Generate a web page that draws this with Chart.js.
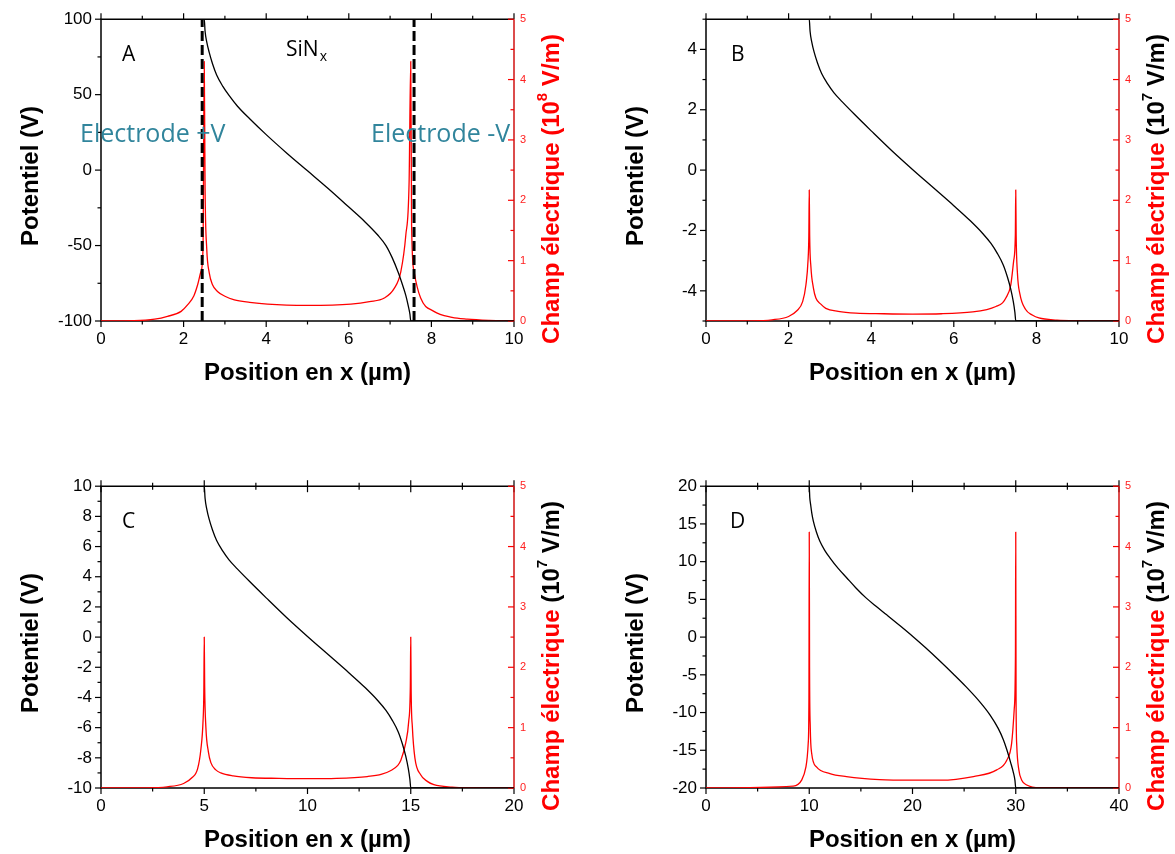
<!DOCTYPE html>
<html>
<head>
<meta charset="utf-8">
<script src="https://cdn.jsdelivr.net/npm/chart.js@4.4.1/dist/chart.umd.min.js"></script>
<style>
  body { margin: 0; background: #fff; width: 1175px; height: 854px; overflow: hidden; position: relative; }
  canvas { position: absolute; }
</style>
</head>
<body>
<canvas id="chartA" width="590" height="400" style="left:0;top:0"></canvas>
<canvas id="chartB" width="590" height="400" style="left:605px;top:0"></canvas>
<canvas id="chartC" width="590" height="400" style="left:0;top:467px"></canvas>
<canvas id="chartD" width="590" height="400" style="left:605px;top:467px"></canvas>
<script>
// Potentiel / champ électrique dans une couche SiNx, 4 cas (A-D)

const fieldTicks = [0, 1, 2, 3, 4, 5];

// --- A : 100 V, 5 µm ---
const xTicksA = [0, 2, 4, 6, 8, 10];
const vTicksA = [-100, -50, 0, 50, 100];
const electrodeXA = [2.45, 7.58];
const potXA = [0, 2.5, 2.52, 2.56, 2.62, 2.7, 2.8, 2.95, 3.1, 3.3, 3.6, 4.0, 4.5, 5.0, 5.5, 6.0, 6.4, 6.7, 6.9, 7.05, 7.2, 7.3, 7.38, 7.44, 7.48, 7.5, 10];
const potVA = [100, 100, 92, 85, 78, 70.5, 63, 55.5, 49.5, 42.5, 34, 23.5, 11.2, -0.5, -12.2, -24.5, -34.5, -43, -50, -58, -68, -76, -83, -90, -95.5, -100, -100];
const fieldXA = [0, 0.8, 1.3, 1.61, 1.94, 2.1, 2.25, 2.34, 2.42, 2.47, 2.5, 2.52, 2.56, 2.62, 2.7, 2.82, 3.0, 3.23, 3.6, 4.03, 5.0, 6.05, 6.5, 6.86, 7.1, 7.26, 7.38, 7.46, 7.5, 7.52, 7.58, 7.74, 8.06, 8.5, 8.87, 9.4, 10];
const fieldEA = [0, 0.005, 0.03, 0.077, 0.16, 0.27, 0.42, 0.6, 0.82, 1.2, 4.3, 2.2, 1.2, 0.8, 0.6, 0.49, 0.41, 0.35, 0.31, 0.28, 0.26, 0.28, 0.32, 0.38, 0.54, 0.82, 1.42, 2.3, 4.3, 1.6, 0.82, 0.38, 0.16, 0.06, 0.03, 0.01, 0];

// --- B : 5 V, 5 µm ---
const xTicksB = [0, 2, 4, 6, 8, 10];
const vTicksB = [-4, -2, 0, 2, 4];
const potXB = [0, 2.5, 2.52, 2.56, 2.62, 2.7, 2.8, 2.95, 3.1, 3.3, 3.6, 4.0, 4.5, 5.0, 5.5, 6.0, 6.4, 6.7, 6.9, 7.05, 7.2, 7.3, 7.38, 7.44, 7.48, 7.5, 10];
const potVB = [5, 5, 4.6, 4.25, 3.9, 3.55, 3.2, 2.85, 2.56, 2.26, 1.84, 1.3, 0.64, 0.02, -0.58, -1.18, -1.68, -2.1, -2.43, -2.75, -3.15, -3.55, -3.95, -4.35, -4.72, -5, -5];
const fieldXB = [0, 1.0, 1.6, 2.0, 2.2, 2.34, 2.42, 2.47, 2.49, 2.5, 2.51, 2.54, 2.6, 2.66, 2.78, 2.9, 3.2, 3.63, 4.3, 5.0, 5.7, 6.46, 6.8, 7.02, 7.18, 7.26, 7.38, 7.45, 7.49, 7.5, 7.51, 7.54, 7.6, 7.74, 7.9, 8.06, 8.5, 9.0, 10];
const fieldEB = [0, 0.003, 0.02, 0.075, 0.17, 0.32, 0.6, 1.0, 1.42, 2.17, 1.42, 0.9, 0.55, 0.38, 0.28, 0.21, 0.16, 0.13, 0.12, 0.115, 0.12, 0.15, 0.19, 0.24, 0.3, 0.38, 0.6, 1.0, 1.42, 2.17, 1.42, 0.8, 0.45, 0.19, 0.1, 0.05, 0.015, 0.004, 0];

// --- C : 10 V, 10 µm ---
const xTicksC = [0, 5, 10, 15, 20];
const vTicksC = [-10, -8, -6, -4, -2, 0, 2, 4, 6, 8, 10];
const potXC = [0, 5, 5.04, 5.12, 5.24, 5.4, 5.6, 5.9, 6.2, 6.6, 7.2, 8.0, 9.0, 10, 11, 12, 12.8, 13.4, 13.8, 14.1, 14.4, 14.6, 14.76, 14.88, 14.96, 15, 20];
const potVC = [10, 10, 9.2, 8.5, 7.8, 7.1, 6.4, 5.7, 5.12, 4.52, 3.68, 2.6, 1.28, 0.04, -1.16, -2.36, -3.36, -4.2, -4.86, -5.5, -6.3, -7.1, -7.9, -8.7, -9.44, -10, -10];
const fieldXC = [0, 2.0, 3.2, 4.0, 4.4, 4.68, 4.84, 4.94, 4.98, 5.0, 5.02, 5.08, 5.2, 5.32, 5.56, 5.8, 6.4, 7.3, 8.6, 10, 11.4, 12.9, 13.6, 14.04, 14.36, 14.52, 14.76, 14.9, 14.98, 15.0, 15.02, 15.08, 15.2, 15.48, 15.8, 16.12, 17, 18, 20];
const fieldEC = [0, 0.003, 0.02, 0.075, 0.17, 0.32, 0.65, 1.1, 1.6, 2.5, 1.7, 1.0, 0.6, 0.42, 0.3, 0.25, 0.2, 0.17, 0.16, 0.155, 0.16, 0.19, 0.23, 0.29, 0.37, 0.46, 0.75, 1.1, 1.7, 2.5, 1.6, 1.0, 0.5, 0.22, 0.11, 0.055, 0.015, 0.004, 0];

// --- D : 20 V, 20 µm ---
const xTicksD = [0, 10, 20, 30, 40];
const vTicksD = [-20, -15, -10, -5, 0, 5, 10, 15, 20];
const potXD = [0, 10, 10.05, 10.13, 10.25, 10.39, 10.7, 11.03, 11.5, 12, 12.8, 13.6, 14.5, 15.5, 16.5, 17.5, 18.8, 20.06, 21.3, 22.6, 24, 25.2, 26.5, 27.5, 28.3, 28.8, 29.13, 29.5, 29.77, 29.92, 30, 40];
const potVD = [20, 20, 18.5, 17.6, 16.4, 15.4, 13.9, 12.7, 11.5, 10.5, 9.1, 7.9, 6.55, 5.2, 4.05, 2.95, 1.5, 0.05, -1.45, -3.1, -4.95, -6.6, -8.55, -10.3, -12.1, -13.6, -14.9, -16.6, -17.95, -18.95, -20, -20];
const fieldXD = [0, 8.45, 9.26, 9.68, 9.9, 9.97, 10, 10.03, 10.1, 10.23, 10.7, 12, 13.6, 16.8, 20, 22.7, 25.9, 28.16, 29.13, 29.6, 29.85, 29.97, 30, 30.03, 30.1, 30.3, 30.58, 31.06, 32.35, 40];
const fieldED = [0, 0.03, 0.13, 0.35, 0.74, 1.5, 4.24, 2.0, 1.0, 0.58, 0.35, 0.24, 0.19, 0.14, 0.13, 0.13, 0.19, 0.3, 0.46, 0.74, 1.3, 2.2, 4.24, 1.5, 0.7, 0.3, 0.13, 0.05, 0.005, 0];

const FONT = '"Liberation Sans", Arial, sans-serif';
const NOTE_FONT = '"Open Sans", sans-serif';
const RED = '#ff0000';

const panels = [
  { id: 'chartA', letter: 'A', letterX: 122, xMin: 0, xMax: 10, vMin: -100, vMax: 100,
    xTicks: xTicksA, vTicks: vTicksA, xMinor: 1, vMinor: 25,
    potX: potXA, potV: potVA, fieldX: fieldXA, fieldE: fieldEA,
    exp: '8', unitColor: RED, electrodes: electrodeXA, notes: true },
  { id: 'chartB', letter: 'B', letterX: 126, xMin: 0, xMax: 10, vMin: -5, vMax: 5,
    xTicks: xTicksB, vTicks: vTicksB, xMinor: 1, vMinor: 1,
    potX: potXB, potV: potVB, fieldX: fieldXB, fieldE: fieldEB,
    exp: '7', unitColor: '#000' },
  { id: 'chartC', letter: 'C', letterX: 122, xMin: 0, xMax: 20, vMin: -10, vMax: 10,
    xTicks: xTicksC, vTicks: vTicksC, xMinor: 2.5, vMinor: 1,
    potX: potXC, potV: potVC, fieldX: fieldXC, fieldE: fieldEC,
    exp: '7', unitColor: '#000', topBoth: true },
  { id: 'chartD', letter: 'D', letterX: 125, xMin: 0, xMax: 40, vMin: -20, vMax: 20,
    xTicks: xTicksD, vTicks: vTicksD, xMinor: 5, vMinor: 2.5,
    potX: potXD, potV: potVD, fieldX: fieldXD, fieldE: fieldED,
    exp: '7', unitColor: '#000', topBoth: true }
];

function pts(xs, ys) {
  return xs.map((x, i) => ({ x: x, y: ys[i] }));
}

// small tick marks (majors + minors) along one side of the frame
function drawMarks(ctx, scale, step, labels, side, area, both) {
  const n = Math.round((scale.max - scale.min) / step);
  for (let i = 0; i <= n; i++) {
    const v = scale.min + i * step;
    const major = labels.some(t => Math.abs(t - v) < step / 100);
    const len = major ? 6 : 3.5;
    const inner = both ? len : 0;
    const p = scale.getPixelForValue(v);
    ctx.beginPath();
    if (side === 'bottom') { ctx.moveTo(p, area.bottom - inner); ctx.lineTo(p, area.bottom + len); }
    if (side === 'top') { ctx.moveTo(p, area.top + inner); ctx.lineTo(p, area.top - len); }
    if (side === 'left') { ctx.moveTo(area.left, p); ctx.lineTo(area.left - len, p); }
    if (side === 'right') { ctx.moveTo(area.right, p); ctx.lineTo(area.right - len, p); }
    ctx.stroke();
  }
}

// text made of several runs (colour / superscript), centred on 0,0
function drawRuns(ctx, runs, size) {
  let total = 0;
  runs.forEach(r => {
    ctx.font = 'bold ' + (r.sup ? Math.round(size * 0.62) : size) + 'px ' + FONT;
    r.w = ctx.measureText(r.text).width;
    total += r.w;
  });
  let x = -total / 2;
  ctx.textBaseline = 'middle';
  ctx.textAlign = 'left';
  runs.forEach(r => {
    ctx.font = 'bold ' + (r.sup ? Math.round(size * 0.62) : size) + 'px ' + FONT;
    ctx.fillStyle = r.color;
    ctx.fillText(r.text, x, r.sup ? -size * 0.38 : 0);
    x += r.w;
  });
}

function makePanel(p) {
  const datasets = [];
  (p.electrodes || []).forEach(x => {
    datasets.push({ data: [{ x: x, y: p.vMin }, { x: x, y: p.vMax }], yAxisID: 'y',
      borderColor: '#000', borderWidth: 3, borderDash: [10, 4], showLine: true });
  });
  datasets.push({ data: pts(p.potX, p.potV), yAxisID: 'y', borderColor: '#000', borderWidth: 1.3,
    showLine: true, cubicInterpolationMode: 'monotone' });
  datasets.push({ data: pts(p.fieldX, p.fieldE), yAxisID: 'y2', borderColor: RED, borderWidth: 1.3,
    showLine: true, cubicInterpolationMode: 'monotone' });

  const frame = {
    id: 'frame',
    beforeDatasetsDraw(chart) {
      const { ctx, chartArea: a, scales } = chart;
      ctx.save();
      ctx.lineWidth = 1.5;
      ctx.strokeStyle = '#000';
      ctx.beginPath();
      ctx.moveTo(a.right, a.bottom); ctx.lineTo(a.left, a.bottom);
      ctx.lineTo(a.left, a.top); ctx.lineTo(a.right, a.top);
      ctx.stroke();
      ctx.lineWidth = 1.2;
      drawMarks(ctx, scales.x, p.xMinor, p.xTicks, 'bottom', a, false);
      drawMarks(ctx, scales.x, p.xMinor, p.xTicks, 'top', a, p.topBoth);
      drawMarks(ctx, scales.y, p.vMinor, p.vTicks, 'left', a, false);
      ctx.strokeStyle = RED;
      drawMarks(ctx, scales.y2, 0.5, fieldTicks, 'right', a, false);
      ctx.strokeStyle = '#d01010';
      ctx.lineWidth = 1.5;
      ctx.beginPath();
      ctx.moveTo(a.right, a.top); ctx.lineTo(a.right, a.bottom);
      ctx.stroke();
      ctx.restore();
    },
    afterDraw(chart) {
      const { ctx, chartArea: a } = chart;
      const cx = (a.left + a.right) / 2;
      ctx.save();
      // axis titles
      ctx.fillStyle = '#000';
      ctx.font = 'bold 24px ' + FONT;
      ctx.textAlign = 'center';
      ctx.textBaseline = 'middle';
      ctx.fillText('Position en x (µm)', cx, 373);
      ctx.save();
      ctx.translate(31, 176);
      ctx.rotate(-Math.PI / 2);
      ctx.fillText('Potentiel (V)', 0, 0);
      ctx.restore();
      ctx.save();
      ctx.translate(552, 189);
      ctx.rotate(-Math.PI / 2);
      drawRuns(ctx, [
        { text: 'Champ électrique ', color: RED },
        { text: '(10', color: p.unitColor },
        { text: p.exp, color: p.unitColor, sup: true },
        { text: ' V/m)', color: p.unitColor }
      ], 24);
      ctx.restore();
      // panel letter
      ctx.textAlign = 'left';
      ctx.textBaseline = 'alphabetic';
      ctx.fillStyle = '#000';
      ctx.font = '21px ' + NOTE_FONT;
      ctx.fillText(p.letter, p.letterX, 61);
      if (p.notes) {
        ctx.fillText('SiN', 286, 56);
        const w = ctx.measureText('SiN').width;
        ctx.font = '14px ' + NOTE_FONT;
        ctx.fillText('x', 286 + w + 1, 61);
        ctx.fillStyle = '#31859c';
        ctx.font = '25px ' + NOTE_FONT;
        ctx.fillText('Electrode +V', 80, 142);
        ctx.fillText('Electrode -V', 371, 142);
      }
      ctx.restore();
    }
  };

  new Chart(document.getElementById(p.id), {
    type: 'scatter',
    data: { datasets: datasets },
    plugins: [frame],
    options: {
      responsive: false,
      animation: false,
      devicePixelRatio: 1,
      layout: { padding: { top: 18, left: 0, right: 0, bottom: 0 } },
      plugins: { legend: { display: false }, tooltip: { enabled: false } },
      elements: {
        point: { radius: 0 },
        line: { tension: 0, borderJoinStyle: 'round', fill: false }
      },
      scales: {
        x: {
          type: 'linear', position: 'bottom', min: p.xMin, max: p.xMax,
          afterBuildTicks: s => { s.ticks = p.xTicks.map(v => ({ value: v })); },
          afterFit: s => { s.height = 79; },
          grid: { display: false, drawTicks: false },
          border: { display: false },
          ticks: { color: '#000', padding: 8, font: { family: FONT, size: 17 }, maxRotation: 0 }
        },
        y: {
          type: 'linear', position: 'left', min: p.vMin, max: p.vMax,
          afterBuildTicks: s => { s.ticks = p.vTicks.map(v => ({ value: v })); },
          afterFit: s => { s.width = 101; },
          grid: { display: false, drawTicks: false },
          border: { display: false },
          ticks: { color: '#000', padding: 9, font: { family: FONT, size: 17 } }
        },
        y2: {
          type: 'linear', position: 'right', min: 0, max: 5,
          afterBuildTicks: s => { s.ticks = fieldTicks.map(v => ({ value: v })); },
          afterFit: s => { s.width = 76; },
          grid: { display: false, drawTicks: false },
          border: { display: false },
          ticks: { color: '#ff2020', padding: 6, font: { family: FONT, size: 11 } }
        }
      }
    }
  });
}

panels.forEach(makePanel);
</script>
</body>
</html>
